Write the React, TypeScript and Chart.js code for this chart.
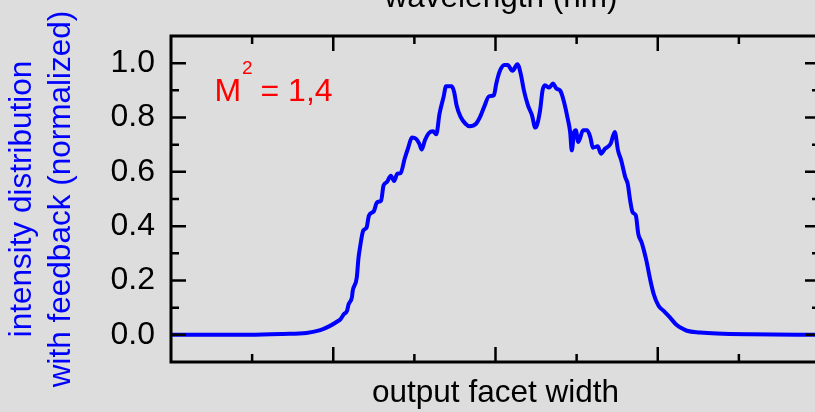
import React, { useEffect, useRef } from 'react';
import { Chart, registerables } from 'chart.js';

Chart.register(...registerables);

// ---- data ----
const positions = [
  0.0, 0.97, 1.38, 1.67, 1.84, 1.96, 2.05, 2.09, 2.13, 2.17, 2.19, 2.23, 2.24, 2.29, 2.31, 2.33,
  2.37, 2.41, 2.44, 2.5, 2.54, 2.59, 2.62, 2.66, 2.71, 2.75, 2.79, 2.83, 2.88, 2.92, 2.97,
  3.02, 3.06, 3.09, 3.13, 3.18, 3.23, 3.27, 3.31, 3.36, 3.39, 3.46, 3.49, 3.52, 3.57, 3.63,
  3.68, 3.76, 3.81, 3.86, 3.92, 3.98, 4.01, 4.05, 4.11, 4.15, 4.21, 4.27, 4.31, 4.35, 4.4,
  4.45, 4.49, 4.51, 4.55, 4.58, 4.61, 4.66, 4.71, 4.75, 4.8, 4.85, 4.89, 4.92, 4.94, 4.97,
  4.99, 5.02, 5.08, 5.13, 5.17, 5.2, 5.26, 5.3, 5.35, 5.42, 5.47, 5.51, 5.55, 5.6, 5.63,
  5.66, 5.69, 5.73, 5.76, 5.8, 5.83, 5.86, 5.91, 5.95, 6.01, 6.07, 6.15, 6.23, 6.28, 6.36,
  6.52, 6.73, 7.14, 8.0,
];
const intensity = [
  0.0, 0.0, 0.003, 0.007, 0.017, 0.033, 0.049, 0.058, 0.076, 0.089, 0.113, 0.138, 0.162, 0.211, 0.28, 0.322,
  0.384, 0.394, 0.439, 0.455, 0.488, 0.494, 0.55, 0.562, 0.586, 0.566, 0.593, 0.595, 0.648, 0.685, 0.726,
  0.722, 0.704, 0.682, 0.716, 0.743, 0.749, 0.738, 0.814, 0.876, 0.915, 0.915, 0.894, 0.845, 0.802, 0.777,
  0.768, 0.777, 0.802, 0.839, 0.878, 0.882, 0.925, 0.968, 0.993, 0.993, 0.972, 0.996, 0.962, 0.9, 0.845,
  0.808, 0.763, 0.771, 0.827, 0.9, 0.919, 0.91, 0.925, 0.907, 0.898, 0.851, 0.796, 0.747, 0.679, 0.747,
  0.753, 0.71, 0.753, 0.753, 0.726, 0.689, 0.694, 0.667, 0.685, 0.704, 0.747, 0.679, 0.642, 0.58, 0.556,
  0.494, 0.451, 0.439, 0.372, 0.341, 0.31, 0.273, 0.199, 0.15, 0.107, 0.089, 0.064, 0.037, 0.027, 0.015,
  0.009, 0.005, 0.002, 0.0,
];

const yTickValues = [0, 0.2, 0.4, 0.6, 0.8, 1.0];
const yMinorValues = [0.1, 0.3, 0.5, 0.7, 0.9];
const xMajorValues = [2, 4, 6];
const xMinorValues = [1, 3, 5, 7];

const xTitle = 'output facet width';
const yTitle = ['intensity distribution', 'with feedback (normalized)'];
const topTitle = 'wavelength (nm)';
const labelBase = 'M';
const labelSup = '2';
const labelRest = ' = 1,4';
const labelAt = { x: 0.535, y: 0.862 };

const FONT = '"Liberation Sans", Arial, sans-serif';
const BG = '#dddddd';

const framePlugin = {
  id: 'frame',
  beforeDraw(chart: any) {
    const { ctx, width, height } = chart;
    ctx.save();
    ctx.fillStyle = BG;
    ctx.fillRect(0, 0, width, height);
    ctx.restore();
  },
  afterDraw(chart: any) {
    const { ctx, chartArea } = chart;
    const { left, right, top, bottom } = chartArea;
    const xs = chart.scales.x;
    const ys = chart.scales.y;
    ctx.save();
    // ticks
    ctx.strokeStyle = '#000';
    ctx.lineWidth = 2.5;
    ctx.beginPath();
    const major = 15;
    const minor = 8;
    const xTick = (v: number, len: number) => {
      const p = xs.getPixelForValue(v);
      ctx.moveTo(p, bottom);
      ctx.lineTo(p, bottom - len);
      ctx.moveTo(p, top);
      ctx.lineTo(p, top + len);
    };
    const yTick = (v: number, len: number) => {
      const p = ys.getPixelForValue(v);
      ctx.moveTo(left, p);
      ctx.lineTo(left + len, p);
      ctx.moveTo(right, p);
      ctx.lineTo(right - len, p);
    };
    xMajorValues.forEach((v) => xTick(v, major));
    xMinorValues.forEach((v) => xTick(v, minor));
    yTickValues.forEach((v) => yTick(v, major));
    yMinorValues.forEach((v) => yTick(v, minor));
    ctx.stroke();
    // frame
    ctx.lineWidth = 3;
    ctx.strokeRect(left, top, right - left, bottom - top);

    // top title (cut off by the page edge)
    ctx.fillStyle = '#000';
    ctx.font = `31.5px ${FONT}`;
    ctx.textAlign = 'center';
    ctx.textBaseline = 'alphabetic';
    ctx.fillText(topTitle, 501, 7);

    // annotation
    ctx.fillStyle = '#ff0000';
    ctx.textAlign = 'left';
    let ax = xs.getPixelForValue(labelAt.x);
    const ay = ys.getPixelForValue(labelAt.y);
    ctx.font = `32px ${FONT}`;
    ctx.fillText(labelBase, ax, ay);
    ax += ctx.measureText(labelBase).width + 1;
    ctx.font = `19px ${FONT}`;
    ctx.fillText(labelSup, ax, ay - 27);
    ax += ctx.measureText(labelSup).width - 1;
    ctx.font = `32px ${FONT}`;
    ctx.fillText(labelRest, ax, ay);
    ctx.restore();
  },
};

export default function App() {
  const ref = useRef<HTMLCanvasElement>(null);

  useEffect(() => {
    const canvas = ref.current;
    if (!canvas) return;
    const chart = new Chart(canvas, {
      type: 'line',
      data: {
        datasets: [
          {
            data: positions.map((x, i) => ({ x, y: intensity[i] })),
            borderColor: '#0000ff',
            borderWidth: 4,
            pointRadius: 0,
            fill: false,
            cubicInterpolationMode: 'monotone',
          },
        ],
      },
      options: {
        animation: false,
        responsive: false,
        devicePixelRatio: 1,
        layout: { padding: { top: 36, right: 10, bottom: 0, left: 0 } },
        plugins: { legend: { display: false }, tooltip: { enabled: false } },
        scales: {
          x: {
            type: 'linear',
            min: 0,
            max: 8,
            grid: { display: false, drawTicks: false },
            border: { display: false },
            ticks: { display: false },
            title: {
              display: true,
              text: xTitle,
              color: '#000',
              font: { family: FONT, size: 31.5, lineHeight: 1.2 },
              padding: { top: 0, bottom: 0 },
            },
            afterFit: (s: any) => {
              s.height = 50;
            },
          },
          y: {
            type: 'linear',
            min: -0.1,
            max: 1.1,
            grid: { display: false, drawTicks: false },
            border: { display: false },
            afterBuildTicks: (s: any) => {
              s.ticks = yTickValues.map((v) => ({ value: v }));
            },
            ticks: {
              color: '#000',
              padding: 16,
              font: { family: FONT, size: 32 },
              callback: (v: any) => Number(v).toFixed(1),
            },
            title: {
              display: true,
              text: yTitle,
              color: '#0000ff',
              font: { family: FONT, size: 31.5, lineHeight: 1.24 },
              padding: { top: 2.5, bottom: 0 },
            },
            afterFit: (s: any) => {
              s.width = 171;
            },
          },
        },
      },
      plugins: [framePlugin],
    });
    return () => chart.destroy();
  }, []);

  return (
    <div
      style={{
        position: 'fixed',
        left: 0,
        top: 0,
        width: 815,
        height: 412,
        overflow: 'hidden',
        background: BG,
      }}
    >
      <canvas ref={ref} width={830} height={412} style={{ display: 'block', width: 830, height: 412 }} />
    </div>
  );
}
